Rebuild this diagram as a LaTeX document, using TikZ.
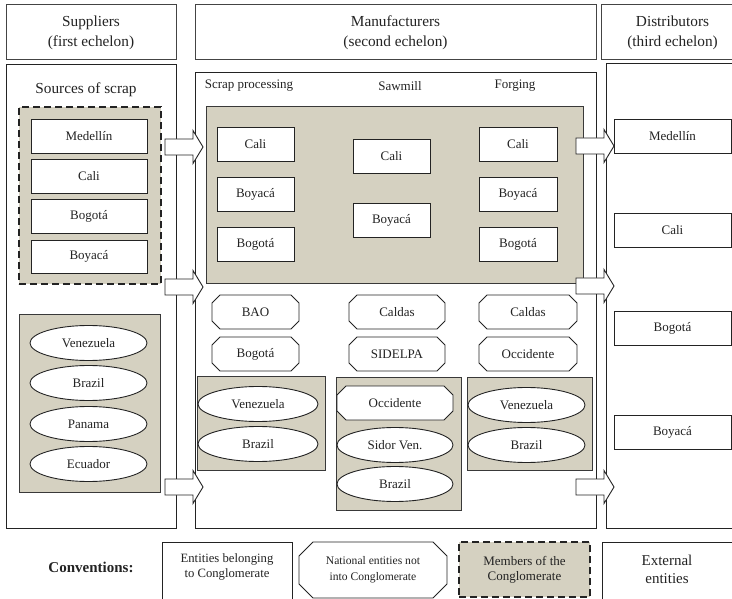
\documentclass[tikz,border=0pt]{standalone}
\usepackage{fontspec}
\setmainfont{Liberation Serif}
\usetikzlibrary{shapes.geometric}
\definecolor{tanfill}{RGB}{213,209,193}
\definecolor{ink}{RGB}{35,35,35}
\tikzset{
  x=1pt, y=-1pt,
  every node/.style={text=ink},
  f13/.style={font=\fontsize{13}{15}\selectfont},
  f15/.style={font=\fontsize{15.3}{20}\selectfont},
  hdrbox/.style={draw=ink!85, line width=1pt, align=center, f15},
  panel/.style={draw=ink, line width=0.9pt},
  ent/.style={draw=ink, line width=0.9pt, fill=white, f13},
  tanbox/.style={draw=ink!90, line width=0.9pt, fill=tanfill},
  members/.style={draw=ink, line width=2.4pt, dash pattern=on 7pt off 4pt, fill=tanfill},
  ell/.style={ellipse, draw=ink, line width=0.9pt, fill=white, inner sep=0pt,
              minimum width=117pt, minimum height=35pt, f13},
  octline/.style={draw=ink, line width=0.9pt, fill=white},
  arrline/.style={draw=ink, line width=0.9pt, fill=white, line join=miter},
}
% rectangle node from corners: [style]{name}{x1}{y1}{x2}{y2}{text}
\newcommand\bx[7][]{\node[inner sep=0pt,outer sep=0pt,#1,minimum width={(#5-#3)*1pt},minimum height={(#6-#4)*1pt}] (#2) at ({(#3+#5)/2},{(#4+#6)/2}) {#7};}
% octagon: [text style]{name}{x1}{y1}{x2}{y2}{chamfer}{text}
\newcommand\oct[8][]{%
  \path[octline] ({#3+#7},#4) -- ({#5-#7},#4) -- (#5,{#4+#7}) -- (#5,{#6-#7}) -- ({#5-#7},#6) -- ({#3+#7},#6) -- (#3,{#6-#7}) -- (#3,{#4+#7}) -- cycle;
  \node[inner sep=0pt,#1,minimum width={(#5-#3)*1pt},minimum height={(#6-#4)*1pt}] (#2) at ({(#3+#5)/2},{(#4+#6)/2}) {#8};}
% block arrow: {x of tail}{y of centre}
\newcommand\blk[2]{\path[arrline] (#1,{#2-8}) -- ++(28,0) -- ++(0,-8.5) -- ++(10,16.5) -- ++(-10,16.5) -- ++(0,-8.5) -- ++(-28,0) -- cycle;}

\begin{document}
\begin{tikzpicture}
\useasboundingbox (0,0) rectangle (732,599);
\clip (0,0) rectangle (732,599);
\fill[white] (0,0) rectangle (732,599);

% headers
\bx[hdrbox]{hS}{6}{5}{176}{60}{Suppliers\\(first echelon)}
\bx[hdrbox]{hM}{195}{5}{596}{60}{Manufacturers\\(second echelon)}
\bx[hdrbox]{hD}{601}{5}{744}{60}{Distributors\\(third echelon)}

% panels
\bx[panel]{pS}{6}{64}{176}{528}{}
\bx[panel]{pM}{195}{72}{596}{528}{}
\bx[panel]{pD}{606}{63}{770}{528}{}

% panel titles
\node[f15] (src) at (86,90) {Sources of scrap};
\node[f13] (cSP) at (249,86) {Scrap processing};
\node[f13] (cSM) at (400,86) {Sawmill};
\node[f13] (cFo) at (515,86) {Forging};

% suppliers: members of the conglomerate
\bx[members]{mS}{19}{107}{161}{284}{}
\bx[ent]{sMed}{31}{119}{147}{153}{Medellín}
\bx[ent]{sCal}{31}{159}{147}{193}{Cali}
\bx[ent]{sBog}{31}{199}{147}{233}{Bogotá}
\bx[ent]{sBoy}{31}{240}{147}{273}{Boyacá}

% suppliers: external
\bx[tanbox]{tS}{19}{314}{160}{492}{}
\node[ell] (sVen) at (88.5,343) {Venezuela};
\node[ell] (sBra) at (88.5,383) {Brazil};
\node[ell] (sPan) at (88.5,424) {Panama};
\node[ell] (sEcu) at (88.5,464) {Ecuador};

% manufacturers: conglomerate
\bx[tanbox]{tM}{206}{106}{583}{283}{}
\bx[ent]{aCal}{217}{127}{294}{161}{Cali}
\bx[ent]{aBoy}{217}{177}{294}{211}{Boyacá}
\bx[ent]{aBog}{217}{227}{294}{261}{Bogotá}
\bx[ent]{bCal}{353}{139}{430}{173}{Cali}
\bx[ent]{bBoy}{353}{203}{430}{237}{Boyacá}
\bx[ent]{cCal}{479}{127}{557}{161}{Cali}
\bx[ent]{cBoy}{479}{177}{557}{211}{Boyacá}
\bx[ent]{cBog}{479}{227}{557}{261}{Bogotá}

% manufacturers: national, not in conglomerate
\oct[f13]{nBAO}{212}{295}{299}{329}{8}{BAO}
\oct[f13]{nBog}{212}{337}{299}{371}{8}{Bogotá}
\oct[f13]{nCal1}{349}{295}{445}{329}{8}{Caldas}
\oct[f13]{nSid}{349}{337}{445}{371}{8}{SIDELPA}
\oct[f13]{nCal2}{479}{295}{577}{329}{8}{Caldas}
\oct[f13]{nOcc1}{479}{337}{577}{371}{8}{Occidente}

% manufacturers: lower tan boxes
\bx[tanbox]{tA}{197}{376}{325}{470}{}
\node[ell, minimum width=120pt] (aVen) at (258,404) {Venezuela};
\node[ell, minimum width=120pt] (aBra) at (258,444) {Brazil};

\bx[tanbox]{tB}{336}{377}{461}{510}{}
\oct[f13]{nOcc2}{337}{386}{453}{420}{9}{Occidente}
\node[ell, minimum width=116pt] (bSid) at (395,445) {Sidor Ven.};
\node[ell, minimum width=116pt] (bBra) at (395,484) {Brazil};

\bx[tanbox]{tC}{467}{377}{592}{470}{}
\node[ell] (cVen) at (526.5,405) {Venezuela};
\node[ell] (cBra) at (526.5,445) {Brazil};

% distributors
\bx[ent]{dMed}{614}{119}{731}{153}{Medellín}
\bx[ent]{dCal}{614}{213}{731}{247}{Cali}
\bx[ent]{dBog}{614}{311}{731}{345}{Bogotá}
\bx[ent]{dBoy}{614}{415}{731}{449}{Boyacá}

% block arrows
\blk{165}{147}
\blk{165}{287}
\blk{165}{487}
\blk{576}{146}
\blk{576}{286}
\blk{576}{487}

% conventions
\node[font=\bfseries\fontsize{15}{18}\selectfont] (conv) at (91,567) {Conventions:};
\bx[panel]{l1}{162}{542}{292}{640}{}
\node[align=center, font=\fontsize{12.7}{15}\selectfont] (l1t) at (227,567) {Entities belonging\\to Conglomerate};
\oct[align=center, font=\fontsize{11.6}{16}\selectfont]{l2}{299}{542}{447}{598}{14}{National entities not\\into Conglomerate}
\bx[members, align=center, f13]{l3}{459}{542}{590}{597}{Members of the\\Conglomerate}
\bx[panel]{l4}{602}{542}{770}{640}{}
\node[align=center, font=\fontsize{15}{18}\selectfont] (l4t) at (667,569) {External\\entities};
\end{tikzpicture}
\end{document}
